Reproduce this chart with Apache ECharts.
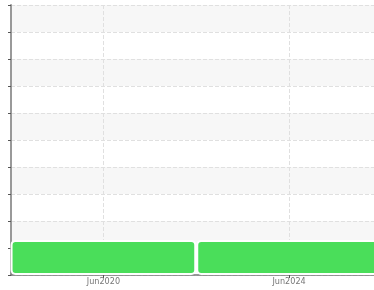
<!DOCTYPE html>
<html>
<head>
<meta charset="utf-8">
<script src="https://cdn.jsdelivr.net/npm/echarts@6/dist/echarts.min.js"></script>
<style>html,body{margin:0;padding:0;background:#fff}#c{width:374px;height:290px}</style>
</head>
<body>
<div id="c"></div>
<script>
const dates = ['2020-06-01', '2024-06-01'];
const values = [1.3, 1.3];
const tickDates = ['2020-06-01', '2024-06-01'];
const tickLabels = ['Jun2020', 'Jun2024'];
const xMin = '2018-06-05';
const xMax = '2026-03-31';
const yMin = 0, yMax = 10, yInterval = 1;

const ts = d => +new Date(d + 'T00:00:00Z');
const chart = echarts.init(document.getElementById('c'), null, {renderer: 'canvas'});
const tickVals = tickDates.map(ts);
chart.setOption({
  animation: false,
  grid: {left: 11, right: 0, top: 5, bottom: 15, containLabel: false},
  xAxis: {
    type: 'value',
    scale: true,
    min: ts(xMin),
    max: ts(xMax),
    axisLine: {lineStyle: {color: '#777', width: 1.5}},
    axisTick: {show: true, length: 3, customValues: tickVals, lineStyle: {color: '#555'}},
    axisLabel: {
      customValues: tickVals,
      formatter: (v) => { const i = tickVals.indexOf(v); return i >= 0 ? tickLabels[i] : ''; },
      fontFamily: 'DejaVu Sans Condensed', fontSize: 9, color: '#777', margin: 2
    },
    splitLine: {show: true, lineStyle: {type: 'dashed', color: '#e0e0e0'}}
  },
  yAxis: {
    type: 'value', min: yMin, max: yMax, interval: yInterval,
    axisLine: {show: true, lineStyle: {color: '#999', width: 2}},
    axisTick: {show: true, length: 3, lineStyle: {color: '#555'}},
    axisLabel: {show: false},
    splitLine: {show: true, lineStyle: {type: 'dashed', color: '#e0e0e0'}},
    splitArea: {show: true, areaStyle: {color: ['#ffffff', '#f7f7f7']}}
  },
  series: [{
    type: 'bar',
    data: dates.map((d, i) => [ts(d), values[i]]),
    barCategoryGap: 0,
    itemStyle: {color: '#4ade5a', borderColor: '#ffffff', borderWidth: 2, borderRadius: 4}
  }]
});
</script>
</body>
</html>
